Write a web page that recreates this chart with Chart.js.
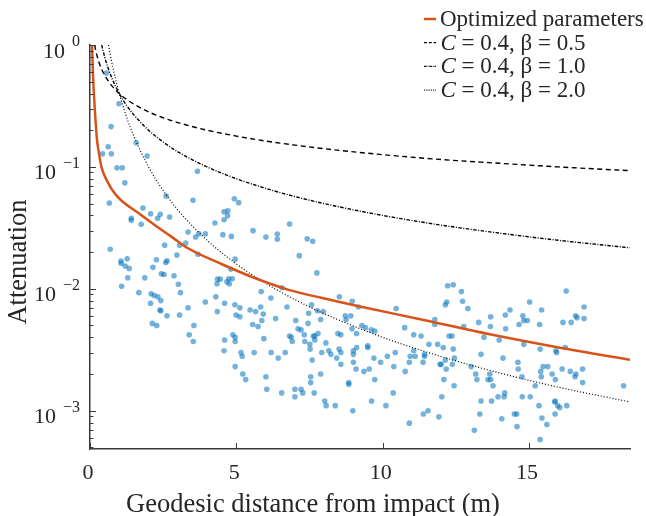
<!DOCTYPE html>
<html>
<head>
<meta charset="utf-8">
<script src="https://cdn.jsdelivr.net/npm/chart.js@4.4.0/dist/chart.umd.min.js"></script>
<style>
  html, body { margin: 0; padding: 0; background: #fff; }
  canvas { display: block; }
</style>
</head>
<body>
<canvas id="grafico" width="646" height="516"></canvas>
<script>
// Medidas (distancia geodesica en m, atenuacion)
var distancias = [
  0.56, 0.99, 0.72, 0.62, 0.43, 0.73, 1.58, 1.95, 0.92, 1.10, 3.67, 1.19, 2.60, 3.52, 0.66, 1.81, 2.07, 2.40, 2.31, 2.72,
  1.41, 1.41, 1.75, 4.27, 4.58, 4.58, 3.35, 3.72, 3.94, 3.61, 4.54, 2.55, 3.27, 3.06, 0.69, 1.06, 1.06, 1.27, 1.20, 1.34,
  1.29, 1.08, 2.27, 2.63, 2.59, 2.15, 2.44, 2.53, 1.87, 2.87, 2.97, 3.69, 3.02, 1.67, 2.09, 2.19, 2.32, 3.09, 2.42, 2.07,
  2.39, 2.42, 2.63, 3.06, 3.35, 2.13, 2.28, 3.55, 3.39, 3.53, 4.36, 4.45, 4.34, 3.94, 4.30, 4.35, 4.60, 4.60, 4.58, 4.93,
  5.08, 4.71, 4.70, 6.82, 4.83, 5.57, 6.01, 6.40, 6.40, 7.42, 7.61, 4.96, 7.15, 4.81, 4.74, 4.86, 4.68, 4.76, 7.75, 6.56,
  5.85, 6.18, 4.95, 5.12, 5.47, 5.66, 5.83, 5.92, 6.73, 7.57, 4.99, 5.12, 5.87, 6.34, 7.03, 7.47, 7.77, 7.97, 7.88, 5.56,
  5.74, 7.11, 7.21, 7.45, 4.88, 4.96, 4.96, 5.94, 6.82, 6.88, 6.91, 7.32, 7.63, 7.68, 7.79, 7.68, 7.34, 7.51, 8.06, 7.52,
  5.16, 5.20, 5.61, 6.19, 6.67, 7.92, 8.16, 8.23, 6.43, 7.59, 4.96, 5.22, 5.32, 6.01, 6.04, 6.55, 7.00, 7.00, 7.21, 7.27,
  7.54, 7.54, 7.66, 7.88, 8.02, 8.07, 8.38, 8.43, 8.51, 8.57, 8.57, 8.47, 8.57, 8.52, 8.96, 8.72, 8.91, 8.75, 8.95, 9.11,
  9.11, 9.00, 9.00, 9.00, 9.09, 8.84, 8.84, 8.98, 9.17, 9.29, 9.41, 9.61, 9.73, 9.49, 9.49, 9.70, 9.93, 9.36, 9.54, 9.73,
  9.62, 10.11, 10.36, 10.46, 10.75, 10.43, 10.16, 10.38, 10.77, 11.06, 11.31, 11.06, 10.94, 11.11, 10.91, 11.43, 11.43, 11.38, 11.58, 11.78,
  11.78, 11.88, 12.07, 12.14, 11.96, 12.00, 12.17, 12.09, 12.02, 11.55, 11.39, 11.92, 10.91, 12.22, 12.41, 12.69, 12.19, 12.14, 12.73, 12.91,
  12.27, 12.37, 12.41, 12.45, 12.38, 12.44, 12.77, 13.28, 13.69, 13.68, 13.46, 13.36, 13.02, 13.18, 13.22, 13.66, 13.60, 13.69, 13.77, 13.36,
  13.72, 13.32, 13.13, 15.02, 15.43, 16.88, 14.35, 14.19, 14.79, 14.82, 14.94, 14.66, 15.36, 16.16, 16.44, 16.59, 16.64, 16.88, 14.20, 13.98,
  14.82, 15.38, 15.92, 15.94, 16.24, 14.11, 14.62, 14.63, 14.76, 15.40, 15.48, 15.64, 15.42, 15.79, 15.90, 16.13, 16.41, 16.57, 16.60, 16.83,
  16.83, 18.23, 14.17, 14.15, 13.94, 14.77, 15.04, 15.21, 15.89, 15.88, 15.98, 16.05, 16.29, 15.34, 14.50, 14.58, 14.07, 15.44, 15.89, 15.61,
  14.59, 15.38, 16.27
];
var atenuaciones = [
  0.59, 0.33, 0.214, 0.146, 0.128, 0.128, 0.158, 0.123, 0.0985, 0.0985, 0.092, 0.074, 0.0577, 0.0532, 0.0506, 0.046, 0.0413, 0.0408, 0.0379, 0.0388,
  0.0379, 0.0365, 0.0338, 0.0347, 0.0429, 0.0369, 0.0292, 0.0283, 0.0283, 0.0266, 0.0278, 0.0228, 0.0237, 0.0228, 0.0211, 0.0169, 0.0162, 0.0176, 0.0154, 0.0147,
  0.0123, 0.0105, 0.0173, 0.0170, 0.0164, 0.0150, 0.0133, 0.0131, 0.0123, 0.0128, 0.0189, 0.0192, 0.0109, 0.0093, 0.0091, 0.0088, 0.0086, 0.0093, 0.0080, 0.0076,
  0.0067, 0.0066, 0.0060, 0.0061, 0.0070, 0.0052, 0.0050, 0.0050, 0.0042, 0.0037, 0.0120, 0.0120, 0.0110, 0.0078, 0.0086, 0.0065, 0.0076, 0.0038, 0.0031, 0.0548,
  0.0509, 0.0437, 0.0398, 0.0340, 0.0269, 0.0300, 0.0266, 0.0281, 0.0255, 0.0257, 0.0245, 0.0175, 0.0187, 0.0145, 0.0121, 0.0121, 0.0114, 0.0110, 0.0135, 0.0102,
  0.0095, 0.0084, 0.0074, 0.0070, 0.0067, 0.0065, 0.0071, 0.0062, 0.0071, 0.0074, 0.0061, 0.0059, 0.0055, 0.0057, 0.0055, 0.0063, 0.0066, 0.0065, 0.0056, 0.0051,
  0.0049, 0.0047, 0.0046, 0.0052, 0.0042, 0.0040, 0.0037, 0.0039, 0.0041, 0.0040, 0.0037, 0.0042, 0.0041, 0.0041, 0.0043, 0.0038, 0.0037, 0.0035, 0.0036, 0.0032,
  0.0030, 0.0028, 0.0030, 0.0030, 0.0030, 0.0030, 0.0031, 0.0029, 0.0027, 0.0026, 0.0023, 0.0020, 0.0018, 0.0019, 0.0015, 0.0014, 0.0015, 0.0013, 0.0015, 0.0014,
  0.0019, 0.0017, 0.0014, 0.0020, 0.0012, 0.0011, 0.0011, 0.0027, 0.0032, 0.0030, 0.0024, 0.0043, 0.0042, 0.0086, 0.0079, 0.0060, 0.0060, 0.0056, 0.0047, 0.0043,
  0.0033, 0.0031, 0.0029, 0.0025, 0.0022, 0.0017, 0.00165, 0.0010, 0.0071, 0.0050, 0.0048, 0.0046, 0.0045, 0.0034, 0.0033, 0.0027, 0.0025, 0.0021, 0.0022, 0.0018,
  0.0012, 0.0011, 0.0014, 0.0069, 0.0048, 0.0030, 0.0028, 0.0023, 0.0021, 0.0042, 0.0041, 0.0031, 0.0028, 0.0028, 0.0025, 0.0029, 0.0028, 0.0025, 0.0035, 0.0056,
  0.0051, 0.0035, 0.0033, 0.0026, 0.0024, 0.0024, 0.0022, 0.0018, 0.0013, 0.0010, 0.00094, 0.00089, 0.00079, 0.0106, 0.0108, 0.0095, 0.0078, 0.0074, 0.0079, 0.0069,
  0.0041, 0.0041, 0.0032, 0.0027, 0.0024, 0.0016, 0.0049, 0.0053, 0.0059, 0.0049, 0.0040, 0.0029, 0.0023, 0.0020, 0.0018, 0.0020, 0.0018, 0.0018, 0.0016, 0.0012,
  0.0012, 0.00094, 0.00069, 0.0078, 0.0067, 0.0071, 0.0067, 0.0061, 0.0060, 0.0055, 0.0055, 0.0051, 0.0051, 0.0053, 0.0053, 0.0060, 0.0058, 0.0057, 0.0047, 0.0038,
  0.0035, 0.0032, 0.0031, 0.0030, 0.0033, 0.0027, 0.0025, 0.0022, 0.0019, 0.0021, 0.0023, 0.0023, 0.0019, 0.0020, 0.0018, 0.0022, 0.0021, 0.0019, 0.0020, 0.0022,
  0.0017, 0.0016, 0.0014, 0.0013, 0.0013, 0.0013, 0.0013, 0.0016, 0.0012, 0.00118, 0.0011, 0.00106, 0.0011, 0.0011, 0.00094, 0.00094, 0.00086, 0.00087, 0.00094, 0.00077,
  0.00074, 0.00058, 0.0096
];

// Curva con parametros optimizados
var optimoX = [0.07, 0.10, 0.16, 0.24, 0.27, 0.39, 0.62, 0.84, 1.07, 1.64, 2.21, 2.78, 3.35, 4.51, 5.65, 6.79, 7.93, 9.18, 11.40, 13.79, 16.01, 18.45];
var optimoY = [1.0, 0.59, 0.31, 0.166, 0.147, 0.10, 0.074, 0.0607, 0.053, 0.042, 0.0334, 0.0268, 0.0215, 0.0159, 0.0122, 0.0098, 0.0084, 0.0072, 0.00555, 0.00417, 0.0033, 0.00262];

// C = 0.4, beta = 0.5
var beta05X = [0.16, 0.2, 0.25, 0.3, 0.4, 0.5, 0.75, 1, 1.25, 1.5, 2, 2.5, 3, 4, 5, 6, 7, 8, 10, 12, 14, 16, 18.45];
var beta05Y = [1.0, 0.894, 0.8, 0.730, 0.632, 0.566, 0.462, 0.4, 0.358, 0.327, 0.283, 0.253, 0.231, 0.2, 0.179, 0.163, 0.151, 0.141, 0.126, 0.115, 0.107, 0.1, 0.0931];
// C = 0.4, beta = 1.0
var beta10X = [0.4, 0.5, 0.6, 0.75, 1, 1.25, 1.5, 2, 2.5, 3, 4, 5, 6, 7, 8, 10, 12, 14, 16, 18.45];
var beta10Y = [1.0, 0.8, 0.667, 0.533, 0.4, 0.32, 0.267, 0.2, 0.16, 0.133, 0.1, 0.08, 0.0667, 0.0571, 0.05, 0.04, 0.0333, 0.0286, 0.025, 0.0217];
// C = 0.4, beta = 2.0
var beta20X = [0.632, 0.7, 0.8, 0.9, 1, 1.25, 1.5, 2, 2.5, 3, 4, 5, 6, 7, 8, 10, 12, 14, 16, 18.45];
var beta20Y = [1.0, 0.816, 0.625, 0.494, 0.4, 0.256, 0.178, 0.1, 0.064, 0.0444, 0.025, 0.016, 0.0111, 0.00816, 0.00625, 0.004, 0.00278, 0.00204, 0.00156, 0.00118];

var ticksX = [0, 5, 10, 15];
var ticksY = [0.001, 0.01, 0.1, 1];
var exponentesY = ['\u22123', '\u22122', '\u22121', '0'];
var etiquetasLeyenda = ['Optimized parameters', 'C = 0.4, \u03b2 = 0.5', 'C = 0.4, \u03b2 = 1.0', 'C = 0.4, \u03b2 = 2.0'];

var FUENTE = '"Liberation Serif", "Times New Roman", serif';
var GRIS = '#262626';
var NARANJA = '#D95319';

function puntos(xs, ys) {
    return xs.map(function(x, i) { return { x: x, y: ys[i] }; });
}

function linea(ctx, x1, y1, x2, y2) {
    ctx.beginPath();
    ctx.moveTo(x1, y1);
    ctx.lineTo(x2, y2);
    ctx.stroke();
}

var estilosLeyenda = [
    { color: NARANJA, ancho: 2.5, guiones: [] },
    { color: '#000', ancho: 1.2, guiones: [3, 1.8] },
    { color: '#000', ancho: 1.2, guiones: [2.5, 1, 0.8, 1] },
    { color: '#000', ancho: 1.2, guiones: [0.8, 1] }
];

var pluginEjes = {
    id: 'ejesMatlab',
    afterDraw: function(chart) {
        var ctx = chart.ctx;
        var ejeX = chart.scales.x;
        var ejeY = chart.scales.y;
        var area = chart.chartArea;
        ctx.save();

        // marcas hacia dentro
        ctx.strokeStyle = '#3a3a3a';
        ctx.lineWidth = 1;
        ticksX.forEach(function(v) {
            var px = Math.round(ejeX.getPixelForValue(v)) + 0.5;
            linea(ctx, px, area.bottom, px, area.bottom - 6);
        });
        ticksY.forEach(function(v) {
            var py = Math.round(ejeY.getPixelForValue(v)) + 0.5;
            linea(ctx, area.left, py, area.left + 6, py);
        });
        [0.0001].concat(ticksY).forEach(function(base) {
            for (var m = 2; m <= 9; m++) {
                var v = base * m;
                if (v < ejeY.min || v > ejeY.max) continue;
                var py = Math.round(ejeY.getPixelForValue(v)) + 0.5;
                linea(ctx, area.left, py, area.left + 3.5, py);
            }
        });

        // etiquetas eje x
        ctx.fillStyle = GRIS;
        ctx.font = '22px ' + FUENTE;
        ctx.textAlign = 'center';
        ctx.textBaseline = 'alphabetic';
        ticksX.forEach(function(v) {
            ctx.fillText(String(v), ejeX.getPixelForValue(v) - 2, 479);
        });

        // etiquetas eje y: 10 con exponente
        ctx.textAlign = 'right';
        ticksY.forEach(function(v, i) {
            var py = ejeY.getPixelForValue(v);
            ctx.font = '16px ' + FUENTE;
            var anchoExp = ctx.measureText(exponentesY[i]).width;
            ctx.fillText(exponentesY[i], 80, py + 1);
            ctx.font = '22px ' + FUENTE;
            ctx.fillText('10', 80 - anchoExp - 7, py + 12.5);
        });

        // titulos
        ctx.font = '26.5px ' + FUENTE;
        ctx.textAlign = 'center';
        ctx.fillText('Geodesic distance from impact (m)', 313, 512);
        ctx.save();
        ctx.translate(25.5, 262);
        ctx.rotate(-Math.PI / 2);
        ctx.fillText('Attenuation', 0, 0);
        ctx.restore();

        // leyenda
        etiquetasLeyenda.forEach(function(texto, i) {
            var y = 19 + i * 23.7;
            var e = estilosLeyenda[i];
            ctx.strokeStyle = e.color;
            ctx.lineWidth = e.ancho;
            ctx.setLineDash(e.guiones);
            linea(ctx, 424, y, 436, y);
            ctx.setLineDash([]);
            ctx.fillStyle = GRIS;
            ctx.textAlign = 'left';
            if (i === 0) {
                ctx.font = '23px ' + FUENTE;
                ctx.fillText(texto, 440, y + 7);
            } else {
                ctx.font = 'italic 23px ' + FUENTE;
                ctx.fillText(texto.charAt(0), 440.5, y + 7);
                var anchoC = ctx.measureText(texto.charAt(0)).width;
                ctx.font = '23px ' + FUENTE;
                ctx.fillText(texto.slice(1), 440.5 + anchoC, y + 7);
            }
        });
        ctx.restore();
    }
};

var ctx = document.getElementById('grafico').getContext('2d');
new Chart(ctx, {
    type: 'scatter',
    data: {
        datasets: [
            {
                label: etiquetasLeyenda[0],
                data: puntos(optimoX, optimoY),
                showLine: true,
                borderColor: NARANJA,
                borderWidth: 2.5,
                pointRadius: 0,
                cubicInterpolationMode: 'monotone',
                order: 1
            },
            {
                label: etiquetasLeyenda[1],
                data: puntos(beta05X, beta05Y),
                showLine: true,
                borderColor: '#000',
                borderWidth: 1.4,
                borderDash: [5, 3.5],
                pointRadius: 0,
                cubicInterpolationMode: 'monotone',
                order: 2
            },
            {
                label: etiquetasLeyenda[2],
                data: puntos(beta10X, beta10Y),
                showLine: true,
                borderColor: '#000',
                borderWidth: 1.4,
                borderDash: [3.5, 1.5, 1, 1.5],
                pointRadius: 0,
                cubicInterpolationMode: 'monotone',
                order: 3
            },
            {
                label: etiquetasLeyenda[3],
                data: puntos(beta20X, beta20Y),
                showLine: true,
                borderColor: '#000',
                borderWidth: 1.2,
                borderDash: [1, 2],
                pointRadius: 0,
                cubicInterpolationMode: 'monotone',
                order: 4
            },
            {
                label: 'Measurements',
                data: puntos(distancias, atenuaciones),
                showLine: false,
                pointRadius: 2.8,
                pointBorderWidth: 0,
                pointBackgroundColor: 'rgba(0, 114, 189, 0.55)',
                pointBorderColor: 'rgba(0, 114, 189, 0)',
                order: 5
            }
        ]
    },
    options: {
        responsive: false,
        animation: false,
        devicePixelRatio: 1,
        events: [],
        layout: { padding: { left: 0, right: 16, top: 45, bottom: 0 } },
        plugins: { legend: { display: false }, tooltip: { enabled: false } },
        scales: {
            x: {
                type: 'linear',
                min: 0,
                max: 18.45,
                bounds: 'data',
                grid: { display: false, drawTicks: false },
                border: { display: true, color: '#3a3a3a', width: 1.5 },
                ticks: { display: false },
                afterFit: function(s) { s.height = 67; }
            },
            y: {
                type: 'logarithmic',
                min: 0.000485,
                max: 1,
                bounds: 'data',
                grid: { display: false, drawTicks: false },
                border: { display: true, color: '#3a3a3a', width: 1.5 },
                ticks: { display: false },
                afterFit: function(s) { s.width = 90; }
            }
        }
    },
    plugins: [pluginEjes]
});
</script>
</body>
</html>
